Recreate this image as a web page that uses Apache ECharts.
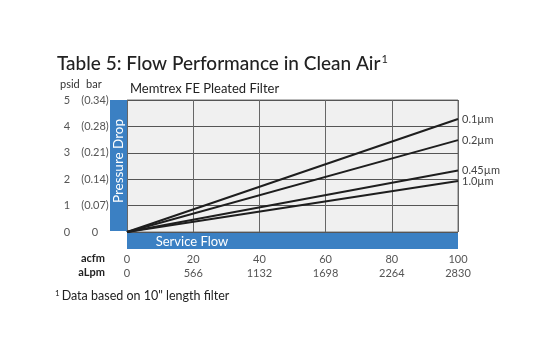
<!DOCTYPE html>
<html><head><meta charset="utf-8">
<script src="https://cdn.jsdelivr.net/npm/echarts@6/dist/echarts.min.js"></script>
<style>html,body{margin:0;padding:0;background:#fff}#c{width:560px;height:357px}</style>
</head><body><div id="c"></div>
<script>
const acfm = [0, 20, 40, 60, 80, 100];
const aLpm = ['0', '566', '1132', '1698', '2264', '2830'];
const psidTicks = [0, 1, 2, 3, 4, 5];
const barTicks = ['0', '(0.07)', '(0.14)', '(0.21)', '(0.28)', '(0.34)'];
const seriesNames = ['0.1µm', '0.2µm', '0.45µm', '1.0µm'];
const flowPoints = [0, 100];
const drop01 = [0, 4.28];
const drop02 = [0, 3.48];
const drop045 = [0, 2.33];
const drop10 = [0, 1.93];
const drops = [drop01, drop02, drop045, drop10];

const BLUE = '#3b80c3';
const FONT = 'Lato';
const chart = echarts.init(document.getElementById('c'));
chart.setOption({
  animation: false,
  textStyle: { fontFamily: FONT },
  grid: { left: 127, right: 102, top: 100, bottom: 125, show: true, backgroundColor: '#f0f0f0', borderColor: '#777', borderWidth: 1 },
  xAxis: {
    type: 'value', min: 0, max: 100, interval: 20,
    axisLine: { show: false }, axisTick: { show: false },
    splitLine: { show: true, lineStyle: { color: '#666', width: 1 } },
    axisLabel: {
      margin: 20, color: '#555', fontSize: 11, lineHeight: 14,
      formatter: function (v) { const i = acfm.indexOf(v); return v + '\n' + aLpm[i]; }
    }
  },
  yAxis: [
    {
      type: 'value', min: 0, max: 5, interval: 1, position: 'left',
      axisLine: { show: false }, axisTick: { show: false },
      splitLine: { show: true, lineStyle: { color: '#555', width: 1 } },
      axisLabel: { margin: 60, align: 'center', color: '#555', fontSize: 11, formatter: function (v) { return String(v); } }
    },
    {
      type: 'value', min: 0, max: 5, interval: 1, position: 'left',
      axisLine: { show: false }, axisTick: { show: false }, splitLine: { show: false },
      axisLabel: { margin: 32, align: 'center', color: '#555', fontSize: 11, formatter: function (v) { return barTicks[psidTicks.indexOf(v)]; } }
    }
  ],
  series: seriesNames.map(function (name, k) {
    return {
      type: 'line', name: name, showSymbol: false, symbol: 'none',
      data: flowPoints.map(function (x, i) { return [x, drops[k][i]]; }),
      lineStyle: { color: '#1e1e1e', width: 2 },
      endLabel: { show: true, formatter: '{a}', color: '#444', fontSize: 11, distance: 4 }
    };
  }),
  graphic: [
    { type: 'text', left: 57, top: 54, style: { text: '{t|Table 5: Flow Performance in Clean Air}{s|1}', rich: { t: { fontSize: 19, fontFamily: FONT, fill: '#222', fontWeight: 500 }, s: { fontSize: 11, fontFamily: FONT, fill: '#222', verticalAlign: 'top', padding: [0, 0, 9, 1] } } } },
    { type: 'text', left: 60, top: 79, style: { text: 'psid', fontSize: 11, fontFamily: FONT, fill: '#333' } },
    { type: 'text', left: 86, top: 79, style: { text: 'bar', fontSize: 11, fontFamily: FONT, fill: '#333' } },
    { type: 'text', left: 130, top: 82, style: { text: 'Memtrex FE Pleated Filter', fontSize: 13, fontFamily: FONT, fill: '#222' } },
    { type: 'rect', shape: { x: 110, y: 100, width: 17, height: 131 }, style: { fill: BLUE } },
    { type: 'rect', shape: { x: 127, y: 233, width: 331, height: 16 }, style: { fill: BLUE } },
    { type: 'text', x: 118.5, y: 161, rotation: Math.PI / 2, style: { text: 'Pressure Drop', fontSize: 13.5, fontFamily: FONT, fill: '#fff', align: 'center', verticalAlign: 'middle' } },
    { type: 'text', x: 192, y: 241.5, style: { text: 'Service Flow', fontSize: 13, fontFamily: FONT, fill: '#fff', align: 'center', verticalAlign: 'middle' } },
    { type: 'text', x: 105, y: 258, style: { text: 'acfm', fontSize: 11, fontFamily: FONT, fill: '#222', fontWeight: 'bold', align: 'right', verticalAlign: 'middle' } },
    { type: 'text', x: 105, y: 272, style: { text: 'aLpm', fontSize: 11, fontFamily: FONT, fill: '#222', fontWeight: 'bold', align: 'right', verticalAlign: 'middle' } },
    { type: 'text', left: 55, top: 289, style: { text: '{s|1}{t|Data based on 10" length filter}', rich: { t: { fontSize: 12.5, fontFamily: FONT, fill: '#222' }, s: { fontSize: 8, fontFamily: FONT, fill: '#222', verticalAlign: 'top', padding: [0, 2, 6, 0] } } } }
  ]
});
</script></body></html>
